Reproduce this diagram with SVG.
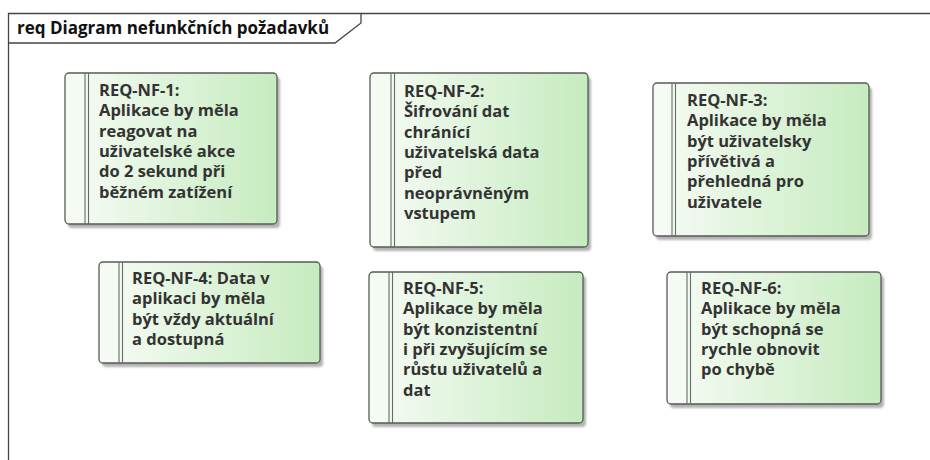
<svg xmlns="http://www.w3.org/2000/svg" width="930" height="460" viewBox="0 0 930 460">
  <defs>
    <linearGradient id="reqFill" x1="0" y1="0" x2="1" y2="0">
      <stop offset="0" stop-color="#f7fcf6"/>
      <stop offset="1" stop-color="#c6ebbf"/>
    </linearGradient>
    <filter id="soft" x="-10%" y="-10%" width="130%" height="130%">
      <feGaussianBlur stdDeviation="1.2"/>
    </filter>
  </defs>
  <style>
    .frame { fill: none; stroke: #444; stroke-width: 1.3; }
    .title { font-family: "Open Sans", "Liberation Sans", sans-serif; font-weight: bold; font-size: 17px; fill: #111; }
    .shadow { fill: #9a9a9a; opacity: 0.75; filter: url(#soft); }
    .box { fill: url(#reqFill); stroke: #5a5a5a; stroke-width: 1.3; }
    .bar { stroke: #6a6a6a; stroke-width: 1.1; }
    .txt { font-family: "Open Sans", "Liberation Sans", sans-serif; font-weight: bold; font-size: 16.5px; fill: #333; }
  </style>
  <rect x="0" y="0" width="930" height="460" fill="#fff"/>

  <!-- diagram frame with name tab -->
  <g id="frame">
    <path class="frame" d="M8.5,460 V13.5 H930"/>
    <path class="frame" d="M8.5,43 H335 L361,23 V13.5"/>
    <text class="title" x="17" y="34">req Diagram nefunkčních požadavků</text>
  </g>

  <g id="connectors"/>

  <g id="req-nf-1">
    <rect class="shadow" x="68" y="77" width="212" height="151" rx="4"/>
    <rect class="box" x="65" y="73" width="212" height="151" rx="4"/>
    <line class="bar" x1="85" y1="73" x2="85" y2="224"/>
    <line class="bar" x1="88.5" y1="73" x2="88.5" y2="224"/>
    <text class="txt">
      <tspan x="99" y="96">REQ-NF-1:</tspan>
      <tspan x="99" y="116.3">Aplikace by měla</tspan>
      <tspan x="99" y="136.6">reagovat na</tspan>
      <tspan x="99" y="156.9">uživatelské akce</tspan>
      <tspan x="99" y="177.2">do 2 sekund při</tspan>
      <tspan x="99" y="197.5">běžném zatížení</tspan>
    </text>
  </g>

  <g id="req-nf-2">
    <rect class="shadow" x="373" y="77" width="218" height="174" rx="4"/>
    <rect class="box" x="370" y="73" width="218" height="174" rx="4"/>
    <line class="bar" x1="391" y1="73" x2="391" y2="247"/>
    <line class="bar" x1="394.5" y1="73" x2="394.5" y2="247"/>
    <text class="txt">
      <tspan x="404" y="97">REQ-NF-2:</tspan>
      <tspan x="404" y="117.3">Šifrování dat</tspan>
      <tspan x="404" y="137.6">chránící</tspan>
      <tspan x="404" y="157.9">uživatelská data</tspan>
      <tspan x="404" y="178.2">před</tspan>
      <tspan x="404" y="198.5">neoprávněným</tspan>
      <tspan x="404" y="218.8">vstupem</tspan>
    </text>
  </g>

  <g id="req-nf-3">
    <rect class="shadow" x="656" y="87" width="216" height="153" rx="4"/>
    <rect class="box" x="653" y="83" width="216" height="153" rx="4"/>
    <line class="bar" x1="672" y1="83" x2="672" y2="236"/>
    <line class="bar" x1="675.5" y1="83" x2="675.5" y2="236"/>
    <text class="txt">
      <tspan x="687" y="106">REQ-NF-3:</tspan>
      <tspan x="687" y="126.3">Aplikace by měla</tspan>
      <tspan x="687" y="146.6">být uživatelsky</tspan>
      <tspan x="687" y="166.9">přívětivá a</tspan>
      <tspan x="687" y="187.2">přehledná pro</tspan>
      <tspan x="687" y="207.5">uživatele</tspan>
    </text>
  </g>

  <g id="req-nf-4">
    <rect class="shadow" x="102" y="266" width="221" height="101" rx="4"/>
    <rect class="box" x="99" y="262" width="221" height="101" rx="4"/>
    <line class="bar" x1="119" y1="262" x2="119" y2="363"/>
    <line class="bar" x1="122.5" y1="262" x2="122.5" y2="363"/>
    <text class="txt">
      <tspan x="132" y="284">REQ-NF-4: Data v</tspan>
      <tspan x="132" y="304.3">aplikaci by měla</tspan>
      <tspan x="132" y="324.6">být vždy aktuální</tspan>
      <tspan x="132" y="344.9">a dostupná</tspan>
    </text>
  </g>

  <g id="req-nf-5">
    <rect class="shadow" x="372" y="276" width="214" height="151" rx="4"/>
    <rect class="box" x="369" y="272" width="214" height="151" rx="4"/>
    <line class="bar" x1="389" y1="272" x2="389" y2="423"/>
    <line class="bar" x1="392.5" y1="272" x2="392.5" y2="423"/>
    <text class="txt">
      <tspan x="403" y="294">REQ-NF-5:</tspan>
      <tspan x="403" y="314.3">Aplikace by měla</tspan>
      <tspan x="403" y="334.6">být konzistentní</tspan>
      <tspan x="403" y="354.9">i při zvyšujícím se</tspan>
      <tspan x="403" y="375.2">růstu uživatelů a</tspan>
      <tspan x="403" y="395.5">dat</tspan>
    </text>
  </g>

  <g id="req-nf-6">
    <rect class="shadow" x="670" y="276" width="214" height="132" rx="4"/>
    <rect class="box" x="667" y="272" width="214" height="132" rx="4"/>
    <line class="bar" x1="687" y1="272" x2="687" y2="404"/>
    <line class="bar" x1="690.5" y1="272" x2="690.5" y2="404"/>
    <text class="txt">
      <tspan x="701" y="294">REQ-NF-6:</tspan>
      <tspan x="701" y="314.3">Aplikace by měla</tspan>
      <tspan x="701" y="334.6">být schopná se</tspan>
      <tspan x="701" y="354.9">rychle obnovit</tspan>
      <tspan x="701" y="375.2">po chybě</tspan>
    </text>
  </g>
</svg>
